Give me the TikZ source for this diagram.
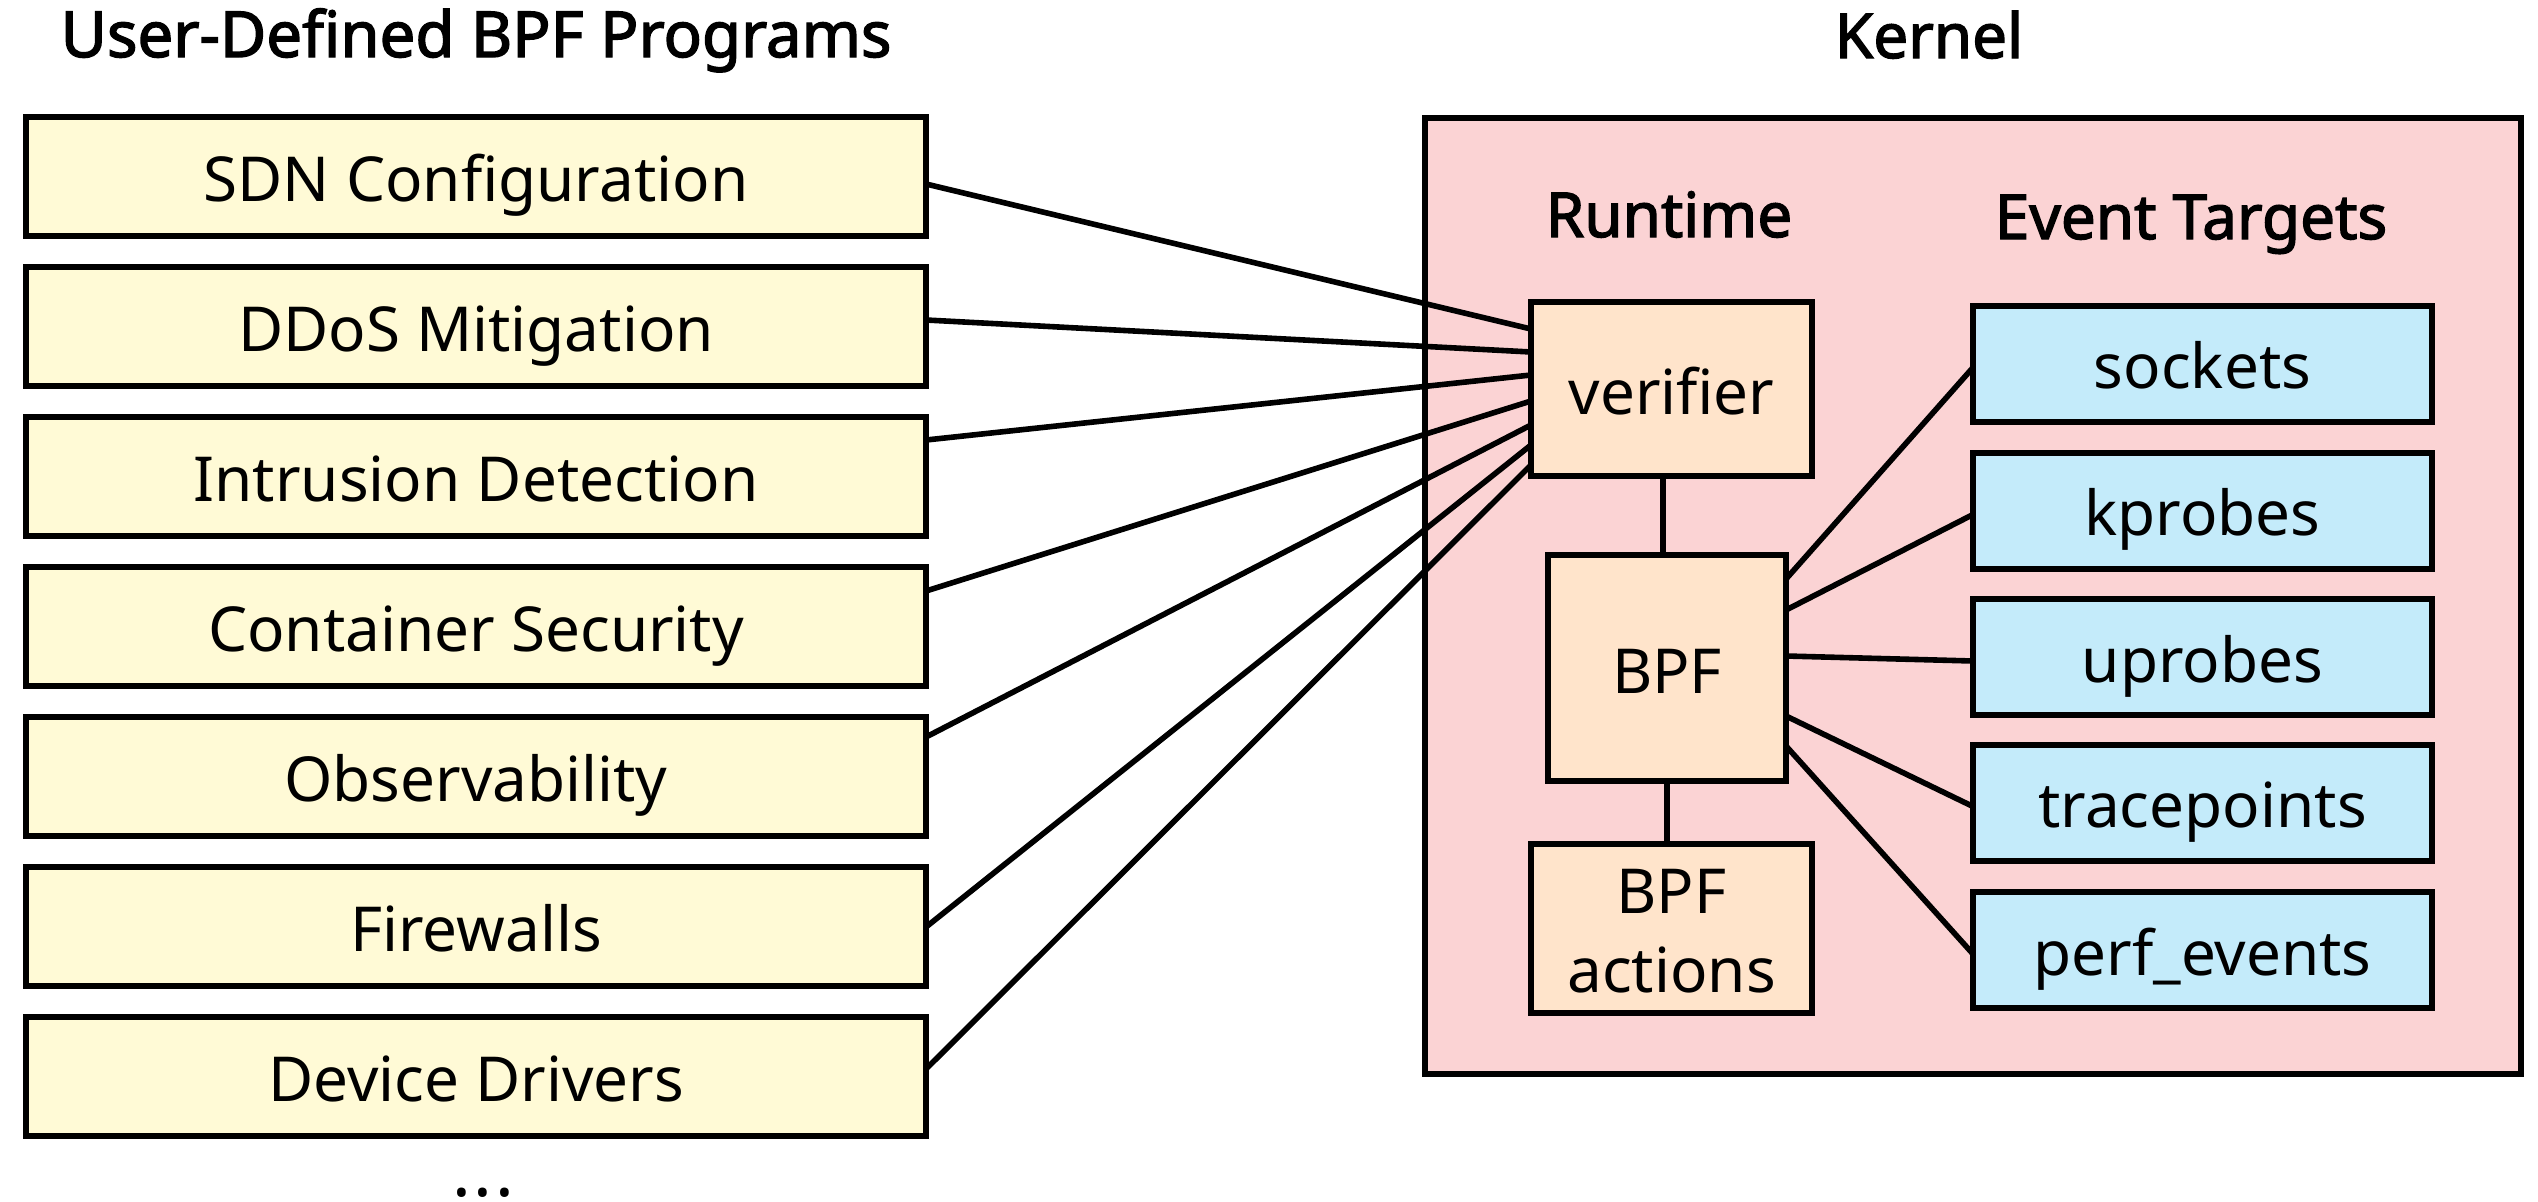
\documentclass[tikz,border=0pt]{standalone}
\usepackage{fontspec}
\setmainfont{Noto Sans}[AutoFakeBold=2.2]
\usetikzlibrary{calc}

\definecolor{progfill}{RGB}{255,250,214}
\definecolor{kernfill}{RGB}{251,211,212}
\definecolor{rtfill}{RGB}{255,228,203}
\definecolor{evfill}{RGB}{196,235,250}

\begin{document}
\begin{tikzpicture}[x=1pt,y=-1pt,
  box/.style={draw, line width=6pt, inner sep=0pt, outer sep=0pt,
    font=\fontsize{62}{74}\selectfont, text height=50pt, text depth=0pt},
  prog/.style={box, fill=progfill, minimum width=900pt, minimum height=119pt},
  rt/.style={box, fill=rtfill},
  ev/.style={box, fill=evfill, minimum width=459pt, minimum height=116pt},
  kernelbox/.style={draw, line width=5.5pt, fill=kernfill, inner sep=0pt,
    minimum width=1096pt, minimum height=956pt},
  heading/.style={anchor=base, font=\fontsize{62}{74}\selectfont\bfseries},
  plain/.style={anchor=base, font=\fontsize{62}{74}\selectfont},
  conn/.style={line width=5.6pt}
]
\useasboundingbox (0,0) rectangle (2538,1202);

% column headings
\node[heading, font=\fontsize{63.5}{74}\selectfont\bfseries] (usertitle) at (476,57) {User-Defined BPF Programs};
\node[heading] (kerneltitle) at (1929,58) {Kernel};

% kernel frame
\node[kernelbox] (kernel) at (1973,596) {};
\node[heading] (runtimetitle) at (1669,237) {Runtime};
\node[heading] (eventtitle) at (2191,239) {Event Targets};

% user-defined programs
\foreach \i/\t in {1/SDN Configuration, 2/DDoS Mitigation,
  3/Intrusion Detection, 4/Container Security, 5/Observability,
  6/Firewalls, 7/Device Drivers}
  \node[prog] (p\i) at (476,{176.5+150*(\i-1)}) {\t};
\node[anchor=base, inner sep=0pt, font=\fontsize{70}{80}\selectfont] (more) at (483,1196)
  {.\kern2.7pt.\kern2.7pt.};

% runtime
\node[rt, minimum width=281pt, minimum height=174pt] (verifier) at (1671.5,389) {verifier};
\node[rt, minimum width=238pt, minimum height=226pt] (bpf) at (1667,668) {BPF};
\node[rt, minimum width=281pt, minimum height=169pt] (actions) at (1671.5,928.5) {};
\node[plain] (actionsA) at ($(actions.center)+(0,-15.5)$) {BPF};
\node[plain] (actionsB) at ($(actions.center)+(0,63.5)$) {actions};

% event targets
\node[ev] (sockets) at (2202.5,363.5) {sockets};
\node[ev] (kprobes) at (2202.5,510.5) {kprobes};
\node[ev] (uprobes) at (2202.5,657) {uprobes};
\node[ev] (tracepoints) at (2202.5,802.5) {tracepoints};
\node[ev] (perf) at (2202.5,950) {perf\_events};

% programs to verifier
\foreach \i/\s/\e in {1/7.5/-60, 2/-6.5/-37, 3/-36.5/-14, 4/-35.5/12,
  5/-39.5/36, 6/0.5/56, 7/-7.5/76}
  \draw[conn] ($(p\i.east)+(0,\s)$) -- ($(verifier.west)+(0,\e)$);

% runtime chain
\draw[conn] ($(bpf.north)+(-4,0)$) -- ($(bpf.north |- verifier.south)+(-4,0)$);
\draw[conn] (bpf.south) -- (bpf.south |- actions.north);

% BPF to event targets
\foreach \n/\s in {sockets/-89, kprobes/-58, uprobes/-12, tracepoints/48, perf/78}
  \draw[conn] ($(bpf.east)+(0,\s)$) -- ($(\n.west)+(0,4)$);
\end{tikzpicture}
\end{document}
